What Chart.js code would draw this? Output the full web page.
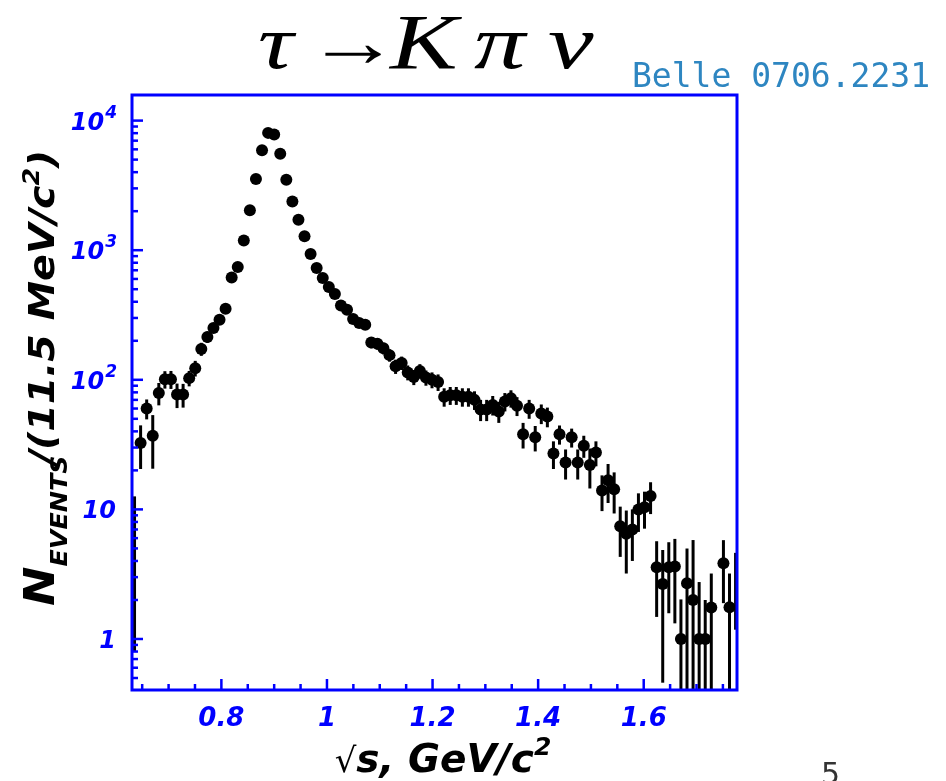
<!DOCTYPE html>
<html>
<head>
<meta charset="utf-8">
<script src="https://cdn.jsdelivr.net/npm/chart.js@4.4.1/dist/chart.umd.min.js"></script>
<style>
  html, body { margin: 0; padding: 0; background: #fff; }
  #wrap { position: relative; width: 946px; height: 781px; overflow: hidden; }
</style>
</head>
<body>
<div id="wrap"><canvas id="c" width="946" height="781"></canvas></div>
<script>
// bin centres (GeV/c^2), 11.5 MeV bins
const massBins = [
  0.6470, 0.6585, 0.6700, 0.6815, 0.6930, 0.7045, 0.7160, 0.7275, 0.7390, 0.7505,
  0.7620, 0.7735, 0.7850, 0.7965, 0.8080, 0.8195, 0.8310, 0.8425, 0.8540, 0.8655,
  0.8770, 0.8885, 0.9000, 0.9115, 0.9230, 0.9345, 0.9460, 0.9575, 0.9690, 0.9805,
  0.9920, 1.0035, 1.0150, 1.0265, 1.0380, 1.0495, 1.0610, 1.0725, 1.0840, 1.0955,
  1.1070, 1.1185, 1.1300, 1.1415, 1.1530, 1.1645, 1.1760, 1.1875, 1.1990, 1.2105,
  1.2220, 1.2335, 1.2450, 1.2565, 1.2680, 1.2795, 1.2910, 1.3025, 1.3140, 1.3255,
  1.3370, 1.3485, 1.3600, 1.3715, 1.3830, 1.3945, 1.4060, 1.4175, 1.4290, 1.4405,
  1.4520, 1.4635, 1.4750, 1.4865, 1.4980, 1.5095, 1.5210, 1.5325, 1.5440, 1.5555,
  1.5670, 1.5785, 1.5900, 1.6015, 1.6130, 1.6245, 1.6360, 1.6475, 1.6590, 1.6705,
  1.6820, 1.6935, 1.7050, 1.7165, 1.7280, 1.7510, 1.7625
];
const eventCounts = [
  32.5, 60, 37, 79, 101, 101, 77, 77, 103, 123,
  173, 214, 251, 291, 353, 616, 742, 1190, 2030, 3550,
  5900, 8040, 7800, 5560, 3500, 2380, 1720, 1280, 935, 730,
  610, 520, 459, 375, 347, 294, 274, 266, 194, 190,
  175, 155, 127, 135, 114, 105, 117, 104, 100, 96,
  74, 76, 76, 74, 74, 70, 59, 59, 64, 57,
  68, 72, 63, 38, 60, 36, 55, 52, 27, 38,
  23, 36, 23, 31, 22, 27.5, 14, 16.8, 14.3, 7.4,
  6.5, 7.0, 10.0, 10.4, 12.7, 3.58, 2.66, 3.58, 3.62, 1.0,
  2.69, 2.0, 1.0, 1.0, 1.75, 3.84, 1.76
];
const countErrors = [
  12, 10.5, 16.4, 15.5, 15.5, 16, 16.5, 16, 14, 17,
  20, 21, 22, 24, 26, 35, 38, 48, 62, 82,
  105, 122, 120, 100, 80, 66, 56, 48, 41, 36,
  33, 30, 28, 26, 25, 23, 22, 22, 19, 19,
  18, 17, 16, 16, 15, 14, 15, 14, 14, 14,
  12, 12, 12, 12, 12, 11.5, 11, 11, 11, 10.5,
  11, 11, 10.5, 8.5, 10, 8, 9.5, 9, 6.5, 6.4,
  6, 6, 6, 6, 7.5, 6, 4.3, 5.6, 5, 3.1,
  3.3, 3, 3.3, 3.3, 3.5, 2.1, 2.2, 2.0, 2.3, 1.02,
  2.3, 3.8, 1.75, 1.0, 1.45, 1.95, 1.44
];
// bins sitting on the frame edges: only the error bar shows
const edgeBins = [0.6355, 1.7740];
const edgeCounts = [6.7, 2.9];
const edgeErrors = [5.9, 1.72];

const xTickValues = [0.8, 1, 1.2, 1.4, 1.6];
const xTickLabels = ['0.8', '1', '1.2', '1.4', '1.6'];
const xMinorTicks = [0.65, 0.70, 0.75, 0.85, 0.90, 0.95, 1.05, 1.10, 1.15, 1.25,
  1.30, 1.35, 1.45, 1.50, 1.55, 1.65, 1.70, 1.75];
const yTickValues = [1, 10, 100, 1000, 10000];
const yTickBase = ['1', '10', '10', '10', '10'];
const yTickExp = ['', '', '2', '3', '4'];

const BLUE = '#0000ff';
const AXFONT = '"DejaVu Sans", sans-serif';

function drawParts(ctx, parts, x, y) {
  let cx = x;
  parts.forEach(p => {
    ctx.font = p.font;
    ctx.fillText(p.t, cx, y + (p.dy || 0));
    cx += ctx.measureText(p.t).width + (p.gap || 0);
  });
  return cx;
}
function partsWidth(ctx, parts) {
  let w = 0;
  parts.forEach(p => { ctx.font = p.font; w += ctx.measureText(p.t).width + (p.gap || 0); });
  return w;
}
// one glyph, widened a little to get closer to the TeX math italic
function glyph(ctx, t, font, x, y, sx) {
  ctx.save();
  ctx.translate(x, y);
  ctx.scale(sx, 1);
  ctx.font = font;
  ctx.fillText(t, 0, 0);
  ctx.restore();
}

const rootStyle = {
  id: 'rootStyle',
  beforeDatasetsDraw(chart) {
    const { ctx, chartArea: a, scales: { x, y } } = chart;
    ctx.save();
    ctx.beginPath();
    ctx.rect(a.left, a.top, a.right - a.left, a.bottom - a.top);
    ctx.clip();
    ctx.strokeStyle = '#000';
    ctx.lineWidth = 3;
    chart.data.datasets.forEach(ds => {
      ds.data.forEach(p => {
        const px = x.getPixelForValue(p.x);
        const top = y.getPixelForValue(p.y + p.e);
        const low = p.y - p.e;
        const bot = low > y.min ? y.getPixelForValue(low) : a.bottom;
        ctx.beginPath();
        ctx.moveTo(px, top);
        ctx.lineTo(px, bot);
        ctx.stroke();
      });
    });
    ctx.restore();
  },
  afterDraw(chart) {
    const { ctx, chartArea: a, scales: { x, y } } = chart;
    ctx.save();

    // ticks
    ctx.strokeStyle = BLUE;
    ctx.lineWidth = 2.5;
    const tick = (x0, y0, x1, y1) => { ctx.beginPath(); ctx.moveTo(x0, y0); ctx.lineTo(x1, y1); ctx.stroke(); };
    xTickValues.forEach(v => { const px = x.getPixelForValue(v); tick(px, a.bottom, px, a.bottom - 11); });
    xMinorTicks.forEach(v => { const px = x.getPixelForValue(v); tick(px, a.bottom, px, a.bottom - 6); });
    for (let d = 0.1; d < 20000; d *= 10) {
      for (let k = 1; k <= 9; k++) {
        const v = k * d;
        if (v < y.min || v > y.max) continue;
        const py = y.getPixelForValue(v);
        tick(a.left, py, a.left + (k === 1 ? 11 : 6), py);
      }
    }

    // frame
    ctx.lineWidth = 3;
    ctx.strokeRect(a.left, a.top, a.right - a.left, a.bottom - a.top);

    // tick labels
    ctx.fillStyle = BLUE;
    ctx.textBaseline = 'alphabetic';
    ctx.textAlign = 'left';
    xTickValues.forEach((v, i) => {
      const parts = [{ t: xTickLabels[i], font: `italic bold 26px ${AXFONT}` }];
      const w = partsWidth(ctx, parts);
      drawParts(ctx, parts, x.getPixelForValue(v) - w / 2, 726);
    });
    yTickValues.forEach((v, i) => {
      const parts = [{ t: yTickBase[i], font: `italic bold 24px ${AXFONT}`, gap: 1 }];
      if (yTickExp[i]) parts.push({ t: yTickExp[i], font: `italic bold 17px ${AXFONT}`, dy: -12 });
      const w = partsWidth(ctx, parts);
      drawParts(ctx, parts, 117 - w, y.getPixelForValue(v) + 9);
    });

    // x title
    ctx.fillStyle = '#000';
    const xt = [
      { t: '\u221A', font: `34px ${AXFONT}` },
      { t: 's, GeV/c', font: `italic bold 39px ${AXFONT}` },
      { t: '2', font: `italic bold 25px ${AXFONT}`, dy: -17 }
    ];
    drawParts(ctx, xt, 443 - partsWidth(ctx, xt) / 2, 772);

    // y title, stretched along its length
    ctx.save();
    ctx.translate(54, 606);
    ctx.rotate(-Math.PI / 2);
    ctx.scale(1.1, 1);
    drawParts(ctx, [
      { t: 'N', font: `italic bold 43px ${AXFONT}` },
      { t: 'EVENTS', font: `italic bold 23px ${AXFONT}`, dy: 13, gap: -8 },
      { t: '/(11.5 MeV/c', font: `italic bold 36px ${AXFONT}` },
      { t: '2', font: `italic bold 23px ${AXFONT}`, dy: -15 },
      { t: ')', font: `italic bold 36px ${AXFONT}` }
    ], 0, 0);
    ctx.restore();

    // title
    const serif = '"Liberation Serif", "DejaVu Serif", serif';
    glyph(ctx, '\u03C4', `italic 76px ${serif}`, 258, 68, 1.3);
    glyph(ctx, '\u2192', `72px ${serif}`, 306, 66, 1.3);
    glyph(ctx, 'K', `italic 78px ${serif}`, 390, 68, 1.3);
    glyph(ctx, '\u03C0', `italic 76px ${serif}`, 474, 68, 1.35);
    glyph(ctx, '\u03BD', `italic 76px ${serif}`, 548, 68, 1.35);

    // reference tag
    ctx.fillStyle = '#2e86c1';
    ctx.font = '33px "DejaVu Sans Mono", monospace';
    ctx.fillText('Belle 0706.2231', 632, 87);

    // slide number
    ctx.fillStyle = '#333';
    ctx.font = '30px "DejaVu Sans", sans-serif';
    ctx.fillText('5', 821, 784);

    ctx.restore();
  }
};

const points = massBins.map((m, i) => ({ x: m, y: eventCounts[i], e: countErrors[i] }));
const edgePoints = edgeBins.map((m, i) => ({ x: m, y: edgeCounts[i], e: edgeErrors[i] }));

new Chart(document.getElementById('c'), {
  type: 'scatter',
  data: {
    datasets: [
      { data: points, pointRadius: 6, pointHoverRadius: 6, backgroundColor: '#000', borderWidth: 0 },
      { data: edgePoints, pointRadius: 0, pointHoverRadius: 0, borderWidth: 0 }
    ]
  },
  options: {
    responsive: false,
    animation: false,
    events: [],
    layout: { padding: { left: 132, right: 209, top: 95, bottom: 91 } },
    plugins: { legend: { display: false }, tooltip: { enabled: false } },
    scales: {
      x: { type: 'linear', min: 0.6307, max: 1.7767, display: false },
      y: { type: 'logarithmic', min: 0.404, max: 15760, display: false }
    }
  },
  plugins: [rootStyle]
});
</script>
</body>
</html>
